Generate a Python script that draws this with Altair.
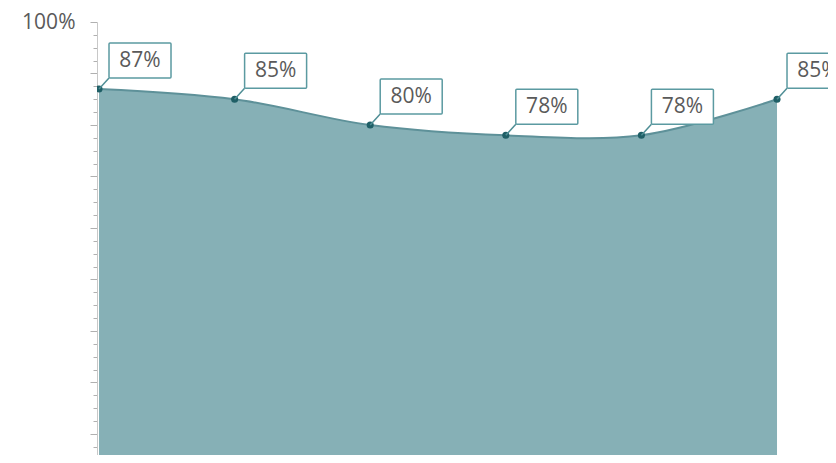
import altair as alt
import pandas as pd

idx = [0, 1, 2, 3, 4, 5]
values = [87, 85, 80, 78, 78, 85]
labels = ["87%", "85%", "80%", "78%", "78%", "85%"]
tick_values = [17.5 + 2.5 * i for i in range(34)]

df = pd.DataFrame({"idx": idx, "value": values, "label": labels})

FONT = "Open Sans"
x = alt.X("idx:Q", axis=None, scale=alt.Scale(domain=[-0.0148, 5.376], nice=False, zero=False))
y_axis = alt.Axis(
    values=tick_values,
    labelExpr="datum.value == 100 ? '100%' : ''",
    tickSize={"condition": {"test": "datum.value % 10 === 0", "value": 7}, "value": 4},
    tickColor="#b0b0b0",
    domainColor="#c8c8c8",
    labelColor="#5a5a5a",
    labelFont=FONT,
    labelFontSize=21,
    labelPadding=15,
    grid=False,
    title=None,
)
y = alt.Y("value:Q", axis=y_axis, scale=alt.Scale(domain=[15.92, 100], nice=False, zero=False))

base = alt.Chart(df)

area = base.mark_area(
    interpolate="catmull-rom", color="#86b0b6", line={"color": "#5e9199", "strokeWidth": 2}, clip=True, opacity=1
).encode(x=x, y=y)

points = base.mark_circle(size=50, color="#1f5f66", opacity=1, clip=True).encode(x=x, y=y)

leader = base.mark_rule(color="#4f8e95", strokeWidth=1.5, x2Offset=10, y2Offset=-11).encode(
    x=x, x2="idx:Q", y=y, y2="value:Q"
)

box = base.mark_rect(
    fill="white", stroke="#5b9aa1", strokeWidth=1.5, cornerRadius=1,
    xOffset=10, x2Offset=72, yOffset=-46, y2Offset=-11, clip=True
).encode(x=x, x2="idx:Q", y=y, y2="value:Q")

text = base.mark_text(
    font=FONT, fontSize=21, color="#5a5a5a", dx=41, dy=-28, align="center", baseline="middle", clip=True
).encode(x=x, y=y, text="label:N")

chart = (
    alt.layer(area, points, leader, box, text)
    .properties(
        width=731,
        height=433,
        padding={"left": 89, "top": 14, "right": 0, "bottom": 0},
        autosize="none",
    )
    .configure_view(stroke=None)
)

chart.save("out.html", embed_options={"renderer": "svg", "actions": False})
